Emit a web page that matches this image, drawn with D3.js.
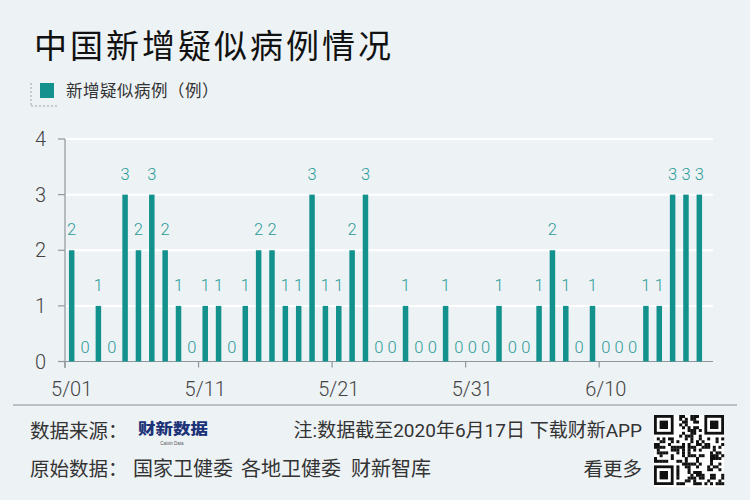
<!DOCTYPE html>
<html><head><meta charset="utf-8">
<script src="https://cdn.jsdelivr.net/npm/d3@7"></script>
<style>
html,body{margin:0;padding:0;background:#edf2f5;}
svg{display:block;font-family:"Noto Sans CJK SC","Noto Sans",sans-serif;}
</style></head>
<body>
<svg id="c" width="750" height="500"></svg>
<script>
const title = "中国新增疑似病例情况";
const seriesName = "新增疑似病例（例）";
const dates = ["5/01","5/02","5/03","5/04","5/05","5/06","5/07","5/08","5/09","5/10",
  "5/11","5/12","5/13","5/14","5/15","5/16","5/17","5/18","5/19","5/20",
  "5/21","5/22","5/23","5/24","5/25","5/26","5/27","5/28","5/29","5/30",
  "5/31","6/01","6/02","6/03","6/04","6/05","6/06","6/07","6/08","6/09",
  "6/10","6/11","6/12","6/13","6/14","6/15","6/16","6/17"];
const values = [2,0,1,0,3,2,3,2,1,0,
  1,1,0,1,2,2,1,1,3,1,
  1,2,3,0,0,1,0,0,1,0,
  0,0,1,0,0,1,2,1,0,1,
  0,0,0,1,1,3,3,3];
const xTickLabels = ["5/01","5/11","5/21","5/31","6/10"];
const yTicks = [0,1,2,3,4];
const sourceLabel = "数据来源：";
const logoText = "财新数据";
const logoSub = "Caixin Data";
const noteText = "注:数据截至2020年6月17日 下载财新APP";
const rawLabel = "原始数据：";
const rawSources = ["国家卫健委","各地卫健委","财新智库"];
const moreText = "看更多";

const svg = d3.select("#c");
const bg = "#edf2f5", barColor = "#13928d", labelColor = "#2c9c97";
const numFont = "Roboto,'Noto Sans CJK SC',sans-serif";
svg.append("rect").attr("width",750).attr("height",500).attr("fill",bg);

// Title
svg.append("text").attr("x",34).attr("y",58).attr("font-size",33)
  .attr("letter-spacing",3).attr("fill","#111").text(title);

// Legend
const lg = svg.append("g");
lg.append("line").attr("x1",31).attr("x2",31).attr("y1",83).attr("y2",106)
  .attr("stroke","#9aa3a8").attr("stroke-width",1).attr("stroke-dasharray","2,2");
lg.append("line").attr("x1",31).attr("x2",57).attr("y1",106).attr("y2",106)
  .attr("stroke","#9aa3a8").attr("stroke-width",1).attr("stroke-dasharray","2,2");
lg.append("rect").attr("x",40).attr("y",83).attr("width",14).attr("height",15).attr("fill",barColor);
lg.append("text").attr("x",66).attr("y",97).attr("font-size",16.5).attr("letter-spacing",0.5)
  .attr("fill","#333").text(seriesName);

// Scales
const x = d3.scaleBand().domain(dates).range([65,713-7]).paddingInner(0).paddingOuter(0);
const y = d3.scaleLinear().domain([0,4]).range([361.5,139]);
const bw = 5.5;

// gridlines
svg.append("g").selectAll("line").data(yTicks.filter(d=>d>0)).join("line")
  .attr("x1",65).attr("x2",713).attr("y1",d=>y(d)).attr("y2",d=>y(d))
  .attr("stroke","#ffffff").attr("stroke-width",2);

// y axis
const axisColor = "#8f979c";
svg.append("line").attr("x1",65).attr("x2",65).attr("y1",y(4)).attr("y2",368)
  .attr("stroke",axisColor).attr("stroke-width",1.2);
svg.append("g").selectAll("line").data(yTicks).join("line")
  .attr("x1",58).attr("x2",65).attr("y1",d=>y(d)).attr("y2",d=>y(d))
  .attr("stroke",axisColor).attr("stroke-width",1.2);
svg.append("g").selectAll("text").data(yTicks).join("text")
  .attr("x",46).attr("y",d=>y(d)+7).attr("text-anchor","end")
  .attr("font-family",numFont).attr("font-size",20).attr("fill","#444").attr("font-weight",300).text(d=>d);

// x axis
svg.append("line").attr("x1",58).attr("x2",713).attr("y1",y(0)).attr("y2",y(0))
  .attr("stroke",axisColor).attr("stroke-width",1.2);
svg.append("g").selectAll("line").data(xTickLabels).join("line")
  .attr("x1",d=>x(d)).attr("x2",d=>x(d)).attr("y1",y(0)).attr("y2",y(0)+6)
  .attr("stroke",axisColor).attr("stroke-width",1.2);
svg.append("g").selectAll("text").data(xTickLabels).join("text")
  .attr("x",d=>x(d)+x.bandwidth()/2).attr("y",396).attr("text-anchor","middle")
  .attr("font-family",numFont).attr("font-size",20).attr("fill","#444").attr("font-weight",300).text(d=>d);

// bars
const data = dates.map((d,i)=>({d, v: values[i]}));
svg.append("g").selectAll("rect").data(data.filter(o=>o.v>0)).join("rect")
  .attr("x",o=>x(o.d)+x.bandwidth()/2-bw/2).attr("width",bw)
  .attr("y",o=>y(o.v)).attr("height",o=>y(0)-y(o.v)).attr("fill",barColor);

// value labels
svg.append("g").selectAll("text").data(data).join("text")
  .attr("x",o=>x(o.d)+x.bandwidth()/2)
  .attr("y",o=>o.v===0 ? y(0)-9 : y(o.v)-15)
  .attr("text-anchor","middle").attr("font-family",numFont).attr("font-size",16.5).attr("font-weight",300)
  .attr("fill",labelColor).text(o=>o.v);

// footer
svg.append("line").attr("x1",13).attr("x2",737).attr("y1",405).attr("y2",405)
  .attr("stroke","#a9b1b6").attr("stroke-width",1.5);
const footFont = "Roboto,'Noto Sans CJK SC',sans-serif";
svg.append("text").attr("x",30).attr("y",438).attr("font-size",19.5).attr("fill","#333").text(sourceLabel);
// logo
svg.append("text").attr("x",138).attr("y",434).attr("font-size",15).attr("font-weight",900)
  .attr("textLength",70).attr("lengthAdjust","spacingAndGlyphs")
  .attr("fill","#1d3378").text(logoText);
svg.append("text").attr("x",172).attr("y",445).attr("font-size",4.5).attr("text-anchor","middle")
  .attr("font-family","'Liberation Sans',sans-serif").attr("fill","#555").text(logoSub);
svg.append("text").attr("x",642).attr("y",437).attr("text-anchor","end").attr("font-size",19)
  .attr("font-family",footFont).attr("fill","#333").text(noteText);
svg.append("text").attr("x",30).attr("y",476).attr("font-size",19.5).attr("fill","#333").text(rawLabel);
const srcX = [133, 241, 351];
svg.append("g").selectAll("text").data(rawSources).join("text")
  .attr("x",(d,i)=>srcX[i]).attr("y",476).attr("font-size",20)
  .attr("fill","#333").text(d=>d);
svg.append("text").attr("x",642).attr("y",476).attr("text-anchor","end").attr("font-size",19.5)
  .attr("fill","#333").text(moreText);

// QR-like code (decorative)
const qr = svg.append("g").attr("transform","translate(654,415)");
const N = 25, m = 70/N;
qr.append("rect").attr("width",70).attr("height",72).attr("fill","#fff");
const cells = [];
for(let r=0;r<N;r++)for(let c=0;c<N;c++){
  const h = ((r*31+c*17)^(r*c*7+c*3))%5;
  if(h<2 && !(r<8&&c<8) && !(r<8&&c>N-9) && !(r>N-9&&c<8)) cells.push([c,r]);
}
qr.selectAll("rect.m").data(cells).join("rect").attr("class","m")
  .attr("x",d=>d[0]*m).attr("y",d=>d[1]*m).attr("width",m+0.2).attr("height",m+0.2).attr("fill","#111");
[[0,0],[N-7,0],[0,N-7]].forEach(([c,r])=>{
  qr.append("rect").attr("x",c*m).attr("y",r*m).attr("width",7*m).attr("height",7*m).attr("fill","#111");
  qr.append("rect").attr("x",(c+1)*m).attr("y",(r+1)*m).attr("width",5*m).attr("height",5*m).attr("fill","#fff");
  qr.append("rect").attr("x",(c+2)*m).attr("y",(r+2)*m).attr("width",3*m).attr("height",3*m).attr("fill","#111");
});
</script>
</body></html>
